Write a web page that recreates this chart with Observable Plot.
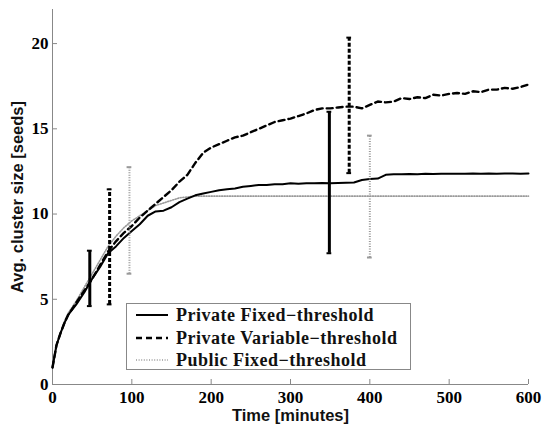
<!DOCTYPE html>
<html><head><meta charset="utf-8">
<script src="https://cdn.jsdelivr.net/npm/d3@7"></script>
<script src="https://cdn.jsdelivr.net/npm/@observablehq/plot@0.6"></script>
<style>
body{margin:0;background:#fff;}
#wrap{position:relative;width:542px;height:427px;}
#legend{position:absolute;left:126px;top:303px;width:283px;height:65px;border:1px solid #888;background:#fff;font-family:"Liberation Serif",serif;font-weight:bold;font-size:18px;letter-spacing:0.5px;color:#111;}
.row{position:absolute;left:0;height:20px;line-height:20px;white-space:nowrap;}
.row svg{position:absolute;left:8px;top:0;}
.row span{position:absolute;left:49px;top:0;}
</style>
</head><body>
<div id="wrap"></div>
<script>
const times = [0,5,10,15,20,30,40,50,60,70,80,90,100,110,120,130,140,150,160,170,180,190,200,210,220,230,240,250,260,270,280,290,300,310,320,330,340,350,360,370,380,390,400,410,420,430,440,450,460,470,480,490,500,510,520,530,540,550,560,570,580,590,600];
const privateFixed = [1.0,2.3,3.0,3.6,4.1, 4.7,5.4,6.2,6.9,7.7,8.1,8.6,9.0,9.4,9.9, 10.15,10.2,10.4,10.7,10.9,11.1,11.2,11.3,11.4,11.45, 11.5,11.6,11.65,11.7,11.7,11.75,11.75,11.8,11.78,11.8, 11.8,11.82,11.8,11.82,11.83,11.85,12.0,12.05,12.08,12.3, 12.33,12.33,12.35,12.34,12.36,12.35,12.37,12.36,12.37,12.36, 12.38,12.37,12.38,12.37,12.38,12.38,12.37,12.38];
const privateVariable = [1.0,2.3,3.0,3.6,4.1, 4.8,5.5,6.2,7.0,7.8,8.4,8.9,9.3,9.8,10.2, 10.6,11.0,11.4,11.9,12.3,13.0,13.6,13.9,14.1,14.3, 14.5,14.6,14.8,15.0,15.2,15.4,15.5,15.6,15.75,15.9, 16.1,16.2,16.2,16.25,16.3,16.3,16.2,16.4,16.6,16.55, 16.6,16.8,16.75,16.85,16.8,17.0,16.95,17.05,17.1,17.05, 17.2,17.15,17.3,17.3,17.4,17.35,17.45,17.6];
const publicFixed = [1.0,2.3,3.0,3.7,4.2, 4.9,5.7,6.5,7.3,8.1,8.7,9.2,9.6,9.9,10.2, 10.5,10.65,10.8,10.95,11.0,11.05,11.05,11.05,11.05,11.05, 11.05,11.05,11.05,11.05,11.05,11.05,11.05,11.05,11.05,11.05, 11.05,11.05,11.05,11.05,11.05,11.05,11.05,11.05,11.05,11.05, 11.05,11.05,11.05,11.05,11.05,11.05,11.05,11.05,11.05,11.05, 11.05,11.05,11.05,11.05,11.05,11.05,11.05,11.05];

const seriesNames = ["Private Fixed\u2212threshold","Private Variable\u2212threshold","Public Fixed\u2212threshold"];
const errSeries = [0,1,2,0,1,2];
const errTimes = [47,72,97,349,374,400];
const errLow = [4.6,4.7,6.5,7.7,12.4,7.45];
const errHigh = [7.85,11.45,12.75,16.0,20.35,14.6];

const xTicks = [0,100,200,300,400,500,600];
const yTicks = [0,5,10,15,20];

const styles = [
  {stroke:"#000", strokeWidth:2, strokeDasharray:null},
  {stroke:"#000", strokeWidth:2.4, strokeDasharray:"6,4"},
  {stroke:"#999", strokeWidth:1.6, strokeDasharray:"1,1.6"}
];
const barStyles = [
  {stroke:"#000", strokeWidth:3, strokeDasharray:null},
  {stroke:"#000", strokeWidth:3, strokeDasharray:"4,2"},
  {stroke:"#999", strokeWidth:2, strokeDasharray:"1,1.5"}
];

const lineData = [privateFixed, privateVariable, publicFixed].map((vals, s) => times.map((t, i) => ({t, v: vals[i], s})));
const errData = errTimes.map((t, i) => ({t, lo: errLow[i], hi: errHigh[i], s: errSeries[i]}));

const W = 542, H = 427, mL = 52, mR = 14, mT = 9, mB = 43;
const tickFont = {fontSize:17, fontWeight:"bold", fontFamily:"Liberation Serif", fill:"#000"};

const marks = [
  Plot.ruleY([0], {stroke:"#888"}),
  Plot.ruleX([0], {stroke:"#888"}),
  Plot.tickX(xTicks, {x: d => d, stroke:"#888", insetTop: (H - mT - mB) - 5}),
  Plot.tickY(yTicks, {y: d => d, stroke:"#888", insetRight: (W - mL - mR) - 5}),
  Plot.text(xTicks, {x: d => d, text: d => String(d), frameAnchor:"bottom", lineAnchor:"middle", textAnchor:"middle", dy:13, ...tickFont}),
  Plot.text(yTicks, {y: d => d, text: d => String(d), frameAnchor:"left", lineAnchor:"middle", textAnchor:"end", dx:-4, ...tickFont}),
  Plot.text(["Time [minutes]"], {frameAnchor:"bottom", lineAnchor:"middle", textAnchor:"middle", dy:31, fontSize:16.5, fontFamily:"Liberation Sans", fontWeight:"bold", fill:"#111"}),
  Plot.text(["Avg. cluster size [seeds]"], {frameAnchor:"left", lineAnchor:"middle", textAnchor:"middle", dx:-35, rotate:-90, fontSize:16.5, fontFamily:"Liberation Sans", fontWeight:"bold", fill:"#111"})
];
[2,0,1].forEach(s => {
  marks.push(Plot.line(lineData[s], {x:"t", y:"v", ...styles[s]}));
});
[2,0,1].forEach(s => {
  const d = errData.filter(e => e.s === s);
  const st = barStyles[s];
  marks.push(Plot.ruleX(d, {x:"t", y1:"lo", y2:"hi", ...st}));
  marks.push(Plot.ruleY(d, {y:"lo", x1: e => e.t - 3, x2: e => e.t + 3, stroke: st.stroke, strokeWidth: 2}));
  marks.push(Plot.ruleY(d, {y:"hi", x1: e => e.t - 3, x2: e => e.t + 3, stroke: st.stroke, strokeWidth: 2}));
});

const chart = Plot.plot({
  width: W, height: H,
  marginLeft: mL, marginRight: mR, marginTop: mT, marginBottom: mB,
  x: {domain:[0,600], axis:null},
  y: {domain:[0,22], axis:null},
  style: {background:"#fff", color:"#000", overflow:"visible"},
  marks
});
const wrap = document.getElementById("wrap");
wrap.appendChild(chart);

const legend = document.createElement("div");
legend.id = "legend";
seriesNames.forEach((name, i) => {
  const row = document.createElement("div");
  row.className = "row";
  row.style.top = (1 + i * 22.5) + "px";
  const st = styles[i];
  row.innerHTML = `<svg width="34" height="20"><line x1="1" x2="33" y1="10" y2="10" stroke="${st.stroke}" stroke-width="${st.strokeWidth}" ${st.strokeDasharray ? `stroke-dasharray="${st.strokeDasharray}"` : ""}/></svg><span>${name}</span>`;
  legend.appendChild(row);
});
wrap.appendChild(legend);
</script>
</body></html>
